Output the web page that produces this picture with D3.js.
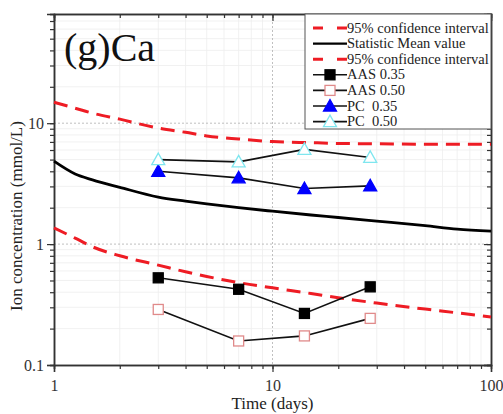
<!DOCTYPE html>
<html>
<head>
<meta charset="utf-8">
<script src="https://cdn.jsdelivr.net/npm/d3@7"></script>
</head>
<body style="margin:0;background:#fff">
<div id="chart" style="width:503px;height:414px;"></div>
<script>
// time points for the fitted curves
var curveDays = [1, 1.25, 1.5, 2, 3, 4, 5, 7, 10, 15, 20, 30, 50, 70, 100];
var meanValue = [4.85, 3.8, 3.4, 2.95, 2.45, 2.27, 2.15, 2.0, 1.87, 1.74, 1.66, 1.55, 1.42, 1.33, 1.28];
var upperCI   = [14.9, 13.3, 12.1, 10.8, 9.1, 8.4, 7.85, 7.4, 7.05, 6.9, 6.8, 6.75, 6.7, 6.7, 6.7];
var lowerCI   = [1.36, 1.12, 0.95, 0.8, 0.67, 0.59, 0.54, 0.48, 0.435, 0.39, 0.36, 0.325, 0.29, 0.27, 0.25];

// measured samples
var sampleDays = [3, 7, 14, 28];
var aas035 = [0.526, 0.423, 0.267, 0.443];
var aas050 = [0.288, 0.158, 0.174, 0.243];
var pc035  = [4.0, 3.53, 2.88, 3.03];
var pc050  = [5.0, 4.79, 6.07, 5.21];

var xTicks = [1, 10, 100];
var yTicks = [0.1, 1, 10];

var legendLabels = ["95% confidence interval", "Statistic Mean value", "95% confidence interval",
                    "AAS 0.35", "AAS 0.50", "PC\u00a0\u00a00.35", "PC\u00a0\u00a00.50"];

var serif = "Liberation Serif";

var margin = {top:14, right:12, bottom:49, left:54};
var width = 503, height = 414;
var plotWidth = width - margin.left - margin.right;
var plotHeight = height - margin.top - margin.bottom;

var svg = d3.select("#chart").append("svg").attr("width", width).attr("height", height)
  .attr("font-family", serif);
var g = svg.append("g").attr("transform", "translate(" + margin.left + "," + margin.top + ")");

var xs = d3.scaleLog().domain([1, 100]).range([0, plotWidth]);
var ys = d3.scaleLog().domain([0.1, 80]).range([plotHeight, 0]);

function minorOf(lo, hi) {
    var out = [];
    for (var d = lo; d < hi; d *= 10)
        for (var k = 1; k <= 9; k++) if (d * k <= hi) out.push(d * k);
    return out;
}
var xMinor = minorOf(1, 100);
var yMinor = minorOf(0.1, 80);

// grid
g.append("g").selectAll("line").data(xMinor.filter(function(v){ return xTicks.indexOf(v) < 0; }))
  .enter().append("line")
  .attr("x1", xs).attr("x2", xs).attr("y1", 0).attr("y2", plotHeight)
  .attr("stroke", "#ededed").attr("stroke-width", 0.8);
g.append("g").selectAll("line").data(yMinor.filter(function(v){ return yTicks.indexOf(v) < 0; }))
  .enter().append("line")
  .attr("y1", ys).attr("y2", ys).attr("x1", 0).attr("x2", plotWidth)
  .attr("stroke", "#ededed").attr("stroke-width", 0.8);
g.append("g").selectAll("line").data([10])
  .enter().append("line")
  .attr("x1", xs).attr("x2", xs).attr("y1", 0).attr("y2", plotHeight)
  .attr("stroke", "#b0b0b0").attr("stroke-width", 0.8).attr("stroke-dasharray", "2,2");
g.append("g").selectAll("line").data([1, 10])
  .enter().append("line")
  .attr("y1", ys).attr("y2", ys).attr("x1", 0).attr("x2", plotWidth)
  .attr("stroke", "#b0b0b0").attr("stroke-width", 0.8).attr("stroke-dasharray", "2,2");

// axes
var fmt = function(d){ return d; };
g.append("g").attr("transform", "translate(0," + plotHeight + ")")
  .call(d3.axisBottom(xs).tickValues(xMinor).tickSize(4).tickFormat(""));
g.append("g").attr("transform", "translate(0," + plotHeight + ")")
  .call(d3.axisBottom(xs).tickValues(xTicks).tickSize(7).tickPadding(8).tickFormat(fmt));
g.append("g").call(d3.axisTop(xs).tickValues(xMinor).tickSize(-4).tickFormat(""));
g.append("g").call(d3.axisTop(xs).tickValues(xTicks).tickSize(-7).tickFormat(""));
g.append("g").call(d3.axisLeft(ys).tickValues(yMinor).tickSize(4).tickFormat(""));
g.append("g").call(d3.axisLeft(ys).tickValues(yTicks).tickSize(7).tickPadding(3).tickFormat(fmt));
g.append("g").attr("transform", "translate(" + plotWidth + ",0)")
  .call(d3.axisRight(ys).tickValues(yMinor).tickSize(-4).tickFormat(""));
g.append("g").attr("transform", "translate(" + plotWidth + ",0)")
  .call(d3.axisRight(ys).tickValues(yTicks).tickSize(-7).tickFormat(""));

g.selectAll("g").filter(function(){ return this.getAttribute("font-family"); })
  .attr("font-family", serif).attr("font-size", 16);
g.selectAll(".domain").attr("stroke", "#333").attr("stroke-width", 1.5);
g.selectAll(".tick line").attr("stroke", "#333").attr("stroke-width", 1.2);
g.selectAll(".tick text").attr("fill", "#333");

// curves
var curve = d3.line().x(function(d){ return xs(d[0]); }).y(function(d){ return ys(d[1]); })
  .curve(d3.curveMonotoneX);
function pairs(xsArr, vals){ return xsArr.map(function(x, i){ return [x, vals[i]]; }); }

g.append("path").datum(pairs(curveDays, upperCI)).attr("d", curve)
  .attr("fill", "none").attr("stroke", "#ee1c24").attr("stroke-width", 3).attr("stroke-dasharray", "14,8");
g.append("path").datum(pairs(curveDays, lowerCI)).attr("d", curve)
  .attr("fill", "none").attr("stroke", "#ee1c24").attr("stroke-width", 3).attr("stroke-dasharray", "14,8");
g.append("path").datum(pairs(curveDays, meanValue)).attr("d", curve)
  .attr("fill", "none").attr("stroke", "#000").attr("stroke-width", 2.8);

// sample series
var series = [
  {vals: aas035, shape: "square", fill: "#000", stroke: "#000"},
  {vals: aas050, shape: "square", fill: "#fff", stroke: "#e08a8a"},
  {vals: pc035, shape: "triangle", fill: "#0000ff", stroke: "#0000ff"},
  {vals: pc050, shape: "triangle", fill: "#fff", stroke: "#7fe6ef"}
];
var straight = d3.line().x(function(d){ return xs(d[0]); }).y(function(d){ return ys(d[1]); });

function marker(sel, s, x, y) {
    if (s.shape === "square") {
        sel.append("rect").attr("x", x - 5).attr("y", y - 5).attr("width", 10).attr("height", 10)
          .attr("fill", s.fill).attr("stroke", s.stroke).attr("stroke-width", 1.3);
    } else {
        sel.append("path").attr("d", "M" + x + "," + (y - 6.5) + "L" + (x + 6.5) + "," + (y + 5) + "L" + (x - 6.5) + "," + (y + 5) + "Z")
          .attr("fill", s.fill).attr("stroke", s.stroke).attr("stroke-width", 1.3);
    }
}

series.forEach(function(s){
    var d = pairs(sampleDays, s.vals);
    g.append("path").datum(d).attr("d", straight)
      .attr("fill", "none").attr("stroke", "#111").attr("stroke-width", 1.6);
    d.forEach(function(p){ marker(g, s, xs(p[0]), ys(p[1])); });
});

// legend
var lg = svg.append("g").attr("transform", "translate(305,14)");
lg.append("rect").attr("width", 186).attr("height", 115)
  .attr("fill", "#fff").attr("stroke", "#555").attr("stroke-width", 1);
legendLabels.forEach(function(lab, i){
    var y = 14 + i * 15.6;
    var row = lg.append("g");
    if (i === 0 || i === 2) {
        row.append("line").attr("x1", 8).attr("x2", 42).attr("y1", y).attr("y2", y)
          .attr("stroke", "#ee1c24").attr("stroke-width", 3).attr("stroke-dasharray", "10,14");
    } else if (i === 1) {
        row.append("line").attr("x1", 8).attr("x2", 42).attr("y1", y).attr("y2", y)
          .attr("stroke", "#000").attr("stroke-width", 2.4);
    } else {
        row.append("line").attr("x1", 8).attr("x2", 42).attr("y1", y).attr("y2", y)
          .attr("stroke", "#111").attr("stroke-width", 1.6);
        marker(row, series[i - 3], 25, y);
    }
    row.append("text").attr("x", 42).attr("y", y + 4.5).attr("fill", "#222")
      .attr("font-family", serif).attr("font-size", 14.5).text(lab);
});

// labels
svg.append("text").attr("x", 64).attr("y", 61).attr("fill", "#111")
  .attr("font-family", serif).attr("font-size", 40).text("(g)Ca");
svg.append("text").attr("x", margin.left + plotWidth / 2).attr("y", 409).attr("fill", "#222")
  .attr("text-anchor", "middle").attr("font-family", serif).attr("font-size", 17).text("Time (days)");
svg.append("text").attr("transform", "translate(22,216) rotate(-90)").attr("fill", "#222")
  .attr("text-anchor", "middle").attr("font-family", serif).attr("font-size", 17).text("Ion concentration (mmol/L)");
</script>
</body>
</html>
